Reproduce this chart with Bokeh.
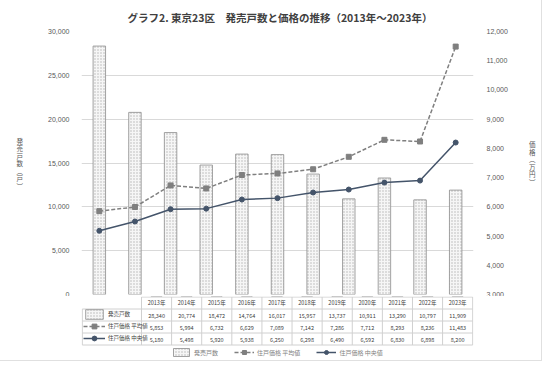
from bokeh.plotting import figure
from bokeh.models import (Range1d, LinearAxis, SingleIntervalTicker, NumeralTickFormatter,
                          Legend, LegendItem)
from bokeh.layouts import column
from bokeh.embed import file_html
from bokeh.resources import INLINE
from bokeh.core.properties import value

# ---------------- data ----------------
years = [2013, 2014, 2015, 2016, 2017, 2018, 2019, 2020, 2021, 2022, 2023]
year_labels = [f"{y}年" for y in years]
units_sold = [28340, 20774, 18472, 14764, 16017, 15957, 13737, 10911, 13290, 10797, 11909]
price_avg = [5853, 5994, 6732, 6629, 7089, 7142, 7286, 7712, 8293, 8236, 11483]
price_med = [5180, 5498, 5920, 5938, 6250, 6298, 6490, 6592, 6830, 6898, 8200]
series_names = ["発売戸数", "住戸価格 平均値", "住戸価格 中央値"]
title_text = "グラフ2. 東京23区　発売戸数と価格の推移（2013年～2023年）"
left_label = "発売戸数︵戸︶"
right_label = "価格︵万円︶"

# ---------------- styles ----------------
JP = "Noto Sans CJK JP"
bar_style = dict(fill_color="#f6f6f6", line_color="#8c8c8c", line_width=0.8,
                 hatch_pattern="dot", hatch_color="#b4b4b4", hatch_scale=3, hatch_weight=0.6)
avg_line = dict(line_color="#7f7f7f", line_width=1.5, line_dash="4 2")
avg_mark = dict(marker="square", size=5, fill_color="#7f7f7f", line_color="#7f7f7f")
med_line = dict(line_color="#44546a", line_width=1.5)
med_mark = dict(marker="circle", size=5, fill_color="#44546a", line_color="#44546a")

W = 538
TOP_H = 296
BOT_H = 61
FL, FR = 81, 43
n = len(years)
x_start, x_end = years[0] - 0.5, years[-1] + 0.5
px = (W - FL - FR) / n

# ---------------- main chart ----------------
p = figure(width=W, height=TOP_H, x_range=Range1d(x_start, x_end), y_range=Range1d(0, 30000),
           output_backend="svg", toolbar_location=None, x_axis_location=None,
           min_border_left=FL, min_border_right=FR, min_border_top=27, min_border_bottom=2)
p.outline_line_color = None
p.extra_y_ranges = {"price": Range1d(3000, 12000)}
p.xgrid.visible = False
p.ygrid.grid_line_color = "#d9d9d9"
p.ygrid.ticker = SingleIntervalTicker(interval=5000)

ya = p.yaxis[0]
ya.ticker = SingleIntervalTicker(interval=5000)
ya.formatter = NumeralTickFormatter(format="0,0")
ya.axis_line_color = None
ya.major_tick_line_color = None
ya.minor_tick_line_color = None
ya.major_label_text_font_size = "7px"
ya.major_label_text_color = "#595959"
ya.major_label_standoff = 6
ya.axis_label = "\n".join(left_label)
ya.axis_label_orientation = "horizontal"
ya.axis_label_text_font = JP
ya.axis_label_text_font_size = "6.5px"
ya.axis_label_text_line_height = 0.75
ya.axis_label_text_font_style = "normal"
ya.axis_label_text_color = "#595959"
ya.axis_label_standoff = 22

ra = LinearAxis(y_range_name="price", ticker=SingleIntervalTicker(interval=1000),
                formatter=NumeralTickFormatter(format="0,0"))
ra.axis_line_color = None
ra.major_tick_line_color = None
ra.minor_tick_line_color = None
ra.major_label_text_font_size = "7px"
ra.major_label_text_color = "#595959"
ra.major_label_standoff = 7
ra.axis_label = "\n".join(right_label)
ra.axis_label_orientation = "horizontal"
ra.axis_label_text_font = JP
ra.axis_label_text_font_size = "6.5px"
ra.axis_label_text_line_height = 0.75
ra.axis_label_text_font_style = "normal"
ra.axis_label_text_color = "#595959"
ra.axis_label_standoff = 18
p.add_layout(ra, "right")

p.vbar(x=years, top=units_sold, bottom=0, width=0.35, **bar_style)
p.line(years, price_avg, y_range_name="price", **avg_line)
p.scatter(years, price_avg, y_range_name="price", **avg_mark)
p.line(years, price_med, y_range_name="price", **med_line)
p.scatter(years, price_med, y_range_name="price", **med_mark)

p.title.text = title_text
p.title.align = "left"
p.title.offset = 46
p.title.text_font = JP
p.title.text_font_size = "10.5px"
p.title.text_color = "#404040"
p.title.text_font_style = "bold"
p.title.standoff = 14

# ---------------- data table ----------------
BL, BR = 6, 42
ROW = 12
bx_end = x_end + 1 / px
bx_start = bx_end - (W - BL - BR) / px
label_left = x_start - 74 / px
y_top = 4 + 0.5 / ROW
y_bot = y_top - BOT_H / ROW

q = figure(width=W, height=BOT_H, x_range=Range1d(bx_start, bx_end), y_range=Range1d(y_bot, y_top),
           output_backend="svg", toolbar_location=None, x_axis_location=None, y_axis_location=None,
           min_border_left=BL, min_border_right=BR, min_border_top=0, min_border_bottom=0)
q.outline_line_color = None
q.grid.visible = False

bounds = [y - 0.5 for y in years] + [x_end]
x0s, x1s, y0s, y1s = [], [], [], []
x0s.append(x_start); x1s.append(x_end); y0s.append(4); y1s.append(4)
for r in range(4):
    x0s.append(label_left); x1s.append(x_end); y0s.append(r); y1s.append(r)
for b in bounds:
    x0s.append(b); x1s.append(b); y0s.append(0); y1s.append(4)
x0s.append(label_left); x1s.append(label_left); y0s.append(0); y1s.append(3)
q.segment(x0=x0s, x1=x1s, y0=y0s, y1=y1s, line_color="#d0d0d0", line_width=1)

tstyle = dict(text_font=value(JP), text_font_size=value("5.5px"), text_color="#404040",
              text_align="center", text_baseline="middle")
q.text(x=years, y=[3.5] * n, text=year_labels, **tstyle)
for i, vals in enumerate([units_sold, price_avg, price_med]):
    q.text(x=years, y=[2.5 - i] * n, text=[f"{v:,}" for v in vals], **tstyle)

# legend-key renderers: same series, they fall outside this small frame (only keys are seen)
rb = q.vbar(x=years, top=units_sold, bottom=units_sold, width=0.35, **bar_style)
ral = q.line(years, price_avg, **avg_line)
ras = q.scatter(years, price_avg, **avg_mark)
rml = q.line(years, price_med, **med_line)
rms = q.scatter(years, price_med, **med_mark)

def make_items():
    return [LegendItem(label=series_names[0], renderers=[rb]),
            LegendItem(label=series_names[1], renderers=[ral, ras]),
            LegendItem(label=series_names[2], renderers=[rml, rms])]

leg_tab = Legend(items=make_items(), location=(2, BOT_H - 4 * ROW), orientation="vertical",
                 glyph_width=22, glyph_height=ROW, label_height=ROW, spacing=0, padding=0, margin=0,
                 label_standoff=3, background_fill_alpha=0, border_line_color=None,
                 label_text_font=JP, label_text_font_size="5.5px", label_text_color="#404040")
q.add_layout(leg_tab)

leg_bot = Legend(items=make_items(), location=(90, 0), orientation="horizontal",
                 glyph_width=20, glyph_height=10, label_height=10, spacing=16, padding=0, margin=0,
                 label_standoff=3, background_fill_alpha=0, border_line_color=None,
                 label_text_font=JP, label_text_font_size="6px", label_text_color="#7f7f7f")
q.add_layout(leg_bot)

layout = column(p, q, spacing=0, styles={"outline": "1px solid #e0e0e0", "outline-offset": "3px"})
open("out.html", "w").write(file_html(layout, INLINE))
